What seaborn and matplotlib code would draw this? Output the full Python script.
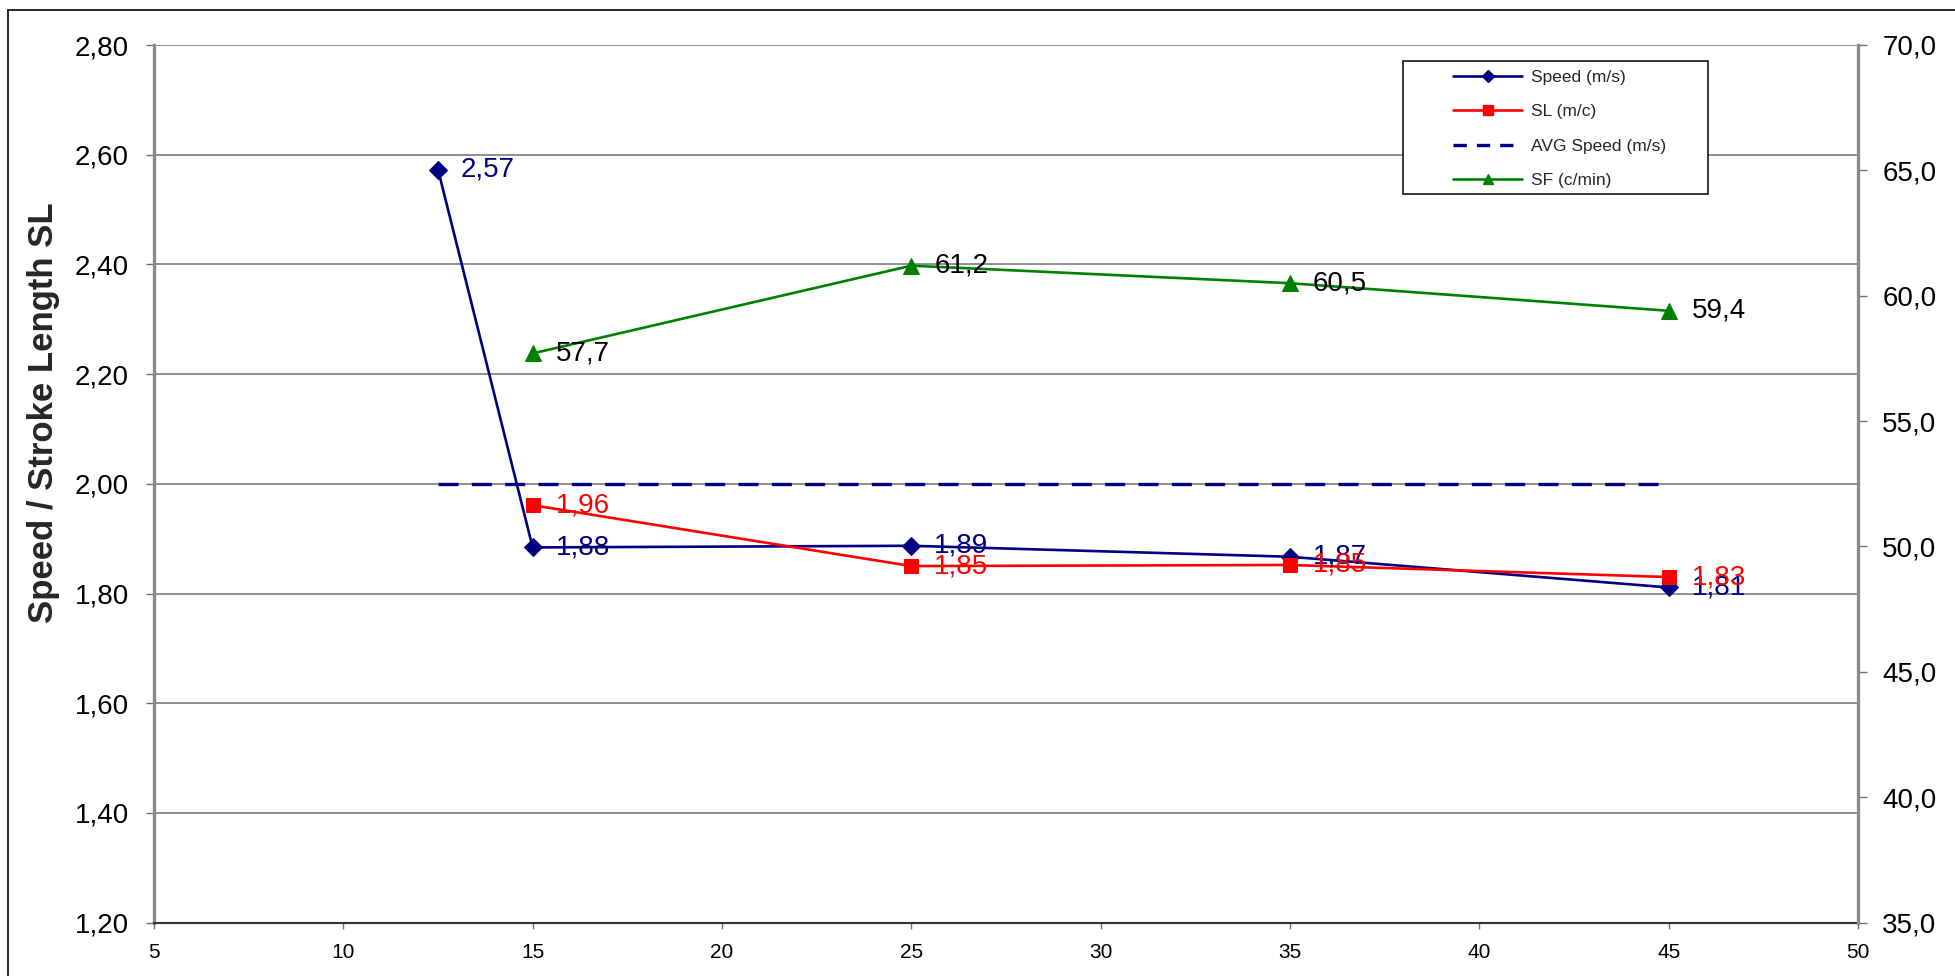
import numpy as np
import pandas as pd
import matplotlib
matplotlib.use("Agg")
import matplotlib.pyplot as plt
import seaborn as sns
from matplotlib.lines import Line2D
from matplotlib.patches import Rectangle
from matplotlib.ticker import FixedLocator, FuncFormatter
from matplotlib import font_manager

# ---------------- data ----------------
speed_x = [12.5, 15, 25, 35, 45]
speed_y = [2.573, 1.884, 1.887, 1.867, 1.811]

sl_x = [15, 25, 35, 45]
sl_y = [1.961, 1.850, 1.852, 1.830]

avg_x = [12.5, 45]
avg_y = [2.00, 2.00]

sf_x = [15, 25, 35, 45]
sf_y = [57.7, 61.2, 60.5, 59.4]

x_ticks = [5, 10, 15, 20, 25, 30, 35, 40, 45, 50]
left_ticks = [1.20, 1.40, 1.60, 1.80, 2.00, 2.20, 2.40, 2.60, 2.80]
right_ticks = [35.0, 40.0, 45.0, 50.0, 55.0, 60.0, 65.0, 70.0]

legend_labels = ["Speed (m/s)", "SL (m/c)", "AVG Speed (m/s)", "SF (c/min)"]
y_label = "Speed / Stroke Length SL"

# ---------------- style ----------------
sns.set_style("white")
names = {f.name for f in font_manager.fontManager.ttflist}
base_font = "Liberation Sans" if "Liberation Sans" in names else "DejaVu Sans"
narrow_font = "Liberation Sans Narrow" if "Liberation Sans Narrow" in names else base_font
plt.rcParams["font.family"] = [base_font, "DejaVu Sans"]

NAVY = "#000080"
RED = "#FF0000"
GREEN = "#008000"
GRID = "#707070"

W, H = 1955, 976
fig = plt.figure(figsize=(W / 100, H / 100), dpi=100)
L, R, T, B = 154, 1858, 45, 922.6
ax = fig.add_axes([L / W, 1 - B / H, (R - L) / W, (B - T) / H])
ax2 = ax.twinx()

# ---------------- series ----------------
LW = 1.9
sns.lineplot(x=speed_x, y=speed_y, ax=ax, color=NAVY, lw=LW, marker="D",
             markersize=9, markeredgecolor=NAVY, sort=False, estimator=None, zorder=4)
sns.lineplot(x=sl_x, y=sl_y, ax=ax, color=RED, lw=LW, marker="s",
             markersize=10.5, markeredgecolor=RED, sort=False, estimator=None, zorder=4)
sns.lineplot(x=avg_x, y=avg_y, ax=ax, color=NAVY, lw=2.4, linestyle=(0, (6, 4)),
             sort=False, estimator=None, zorder=3)
sns.lineplot(x=sf_x, y=sf_y, ax=ax2, color=GREEN, lw=LW, marker="^",
             markersize=11, markeredgecolor=GREEN, sort=False, estimator=None, zorder=4)

def fmt_comma(v, nd):
    return f"{v:.{nd}f}".replace(".", ",")

lab_fs = 20
for x, y in zip(speed_x, speed_y):
    ax.annotate(fmt_comma(y, 2), (x, y), xytext=(16.5, 0), textcoords="offset points",
                ha="left", va="center", color=NAVY, fontsize=lab_fs, zorder=6)
for x, y in zip(sl_x, sl_y):
    ax.annotate(fmt_comma(y, 2), (x, y), xytext=(16.5, 0), textcoords="offset points",
                ha="left", va="center", color=RED, fontsize=lab_fs, zorder=6)
for x, y in zip(sf_x, sf_y):
    ax2.annotate(fmt_comma(y, 1), (x, y), xytext=(16.5, 0), textcoords="offset points",
                 ha="left", va="center", color="black", fontsize=lab_fs, zorder=6)

# ---------------- axes ----------------
ax.set_xlim(5, 50)
ax.set_ylim(1.20, 2.80)
ax2.set_ylim(35, 70)
ax.xaxis.set_major_locator(FixedLocator(x_ticks))
ax.yaxis.set_major_locator(FixedLocator(left_ticks))
ax2.yaxis.set_major_locator(FixedLocator(right_ticks))
ax.yaxis.set_major_formatter(FuncFormatter(lambda v, p: fmt_comma(v, 2)))
ax2.yaxis.set_major_formatter(FuncFormatter(lambda v, p: fmt_comma(v, 1)))
ax.xaxis.set_major_formatter(FuncFormatter(lambda v, p: f"{int(round(v))}"))

ax.grid(False)
ax2.grid(False)
ax.yaxis.grid(True, color=GRID, lw=1.1, zorder=0)
ax.set_axisbelow(True)

for a in (ax, ax2):
    for s in a.spines.values():
        s.set_visible(False)
ax.spines["left"].set_visible(True)
ax.spines["left"].set_color("#8a8a8a")
ax.spines["left"].set_linewidth(2.4)
ax.spines["bottom"].set_visible(True)
ax.spines["bottom"].set_color("#333333")
ax.spines["bottom"].set_linewidth(1.5)
ax2.spines["right"].set_visible(True)
ax2.spines["right"].set_color("#8a8a8a")
ax2.spines["right"].set_linewidth(2.4)

ax.tick_params(axis="y", which="major", direction="out", length=6, width=1.0,
               color=GRID, pad=12, labelsize=20, labelcolor="black", left=True)
ax2.tick_params(axis="y", which="major", direction="out", length=6.5, width=1.0,
                color=GRID, pad=11, labelsize=20, labelcolor="black", right=True)
ax.tick_params(axis="x", which="major", direction="out", length=4.5, width=1.0,
               color=GRID, pad=10, labelsize=15, labelcolor="black", bottom=True)
for lab in ax.get_xticklabels():
    lab.set_family([narrow_font, base_font])

ax.set_ylabel(y_label, fontsize=25, fontweight="bold", family=[narrow_font, base_font])
ax.yaxis.set_label_coords(-(L - 60) / (R - L), (B - 413) / (B - T))
ax2.set_ylabel("")
ax.set_xlabel("")

# ---------------- legend ----------------
handles = [
    Line2D([], [], color=NAVY, lw=LW, marker="D", markersize=6),
    Line2D([], [], color=RED, lw=LW, marker="s", markersize=7),
    Line2D([], [], color=NAVY, lw=2.4, linestyle=(0, (4, 3))),
    Line2D([], [], color=GREEN, lw=LW, marker="^", markersize=7),
]
leg_box = Rectangle((1403 / W, 1 - 194 / H), 305 / W, 133 / H, transform=fig.transFigure,
                    facecolor="white", edgecolor="black", lw=1.1, zorder=4)
fig.add_artist(leg_box)
leg = fig.legend(handles, legend_labels, loc="upper left",
                 bbox_to_anchor=(1453 / W, 1 - 70 / H), bbox_transform=fig.transFigure,
                 frameon=False, fontsize=12.5, borderpad=0, borderaxespad=0,
                 handlelength=4.0, handletextpad=0.5, labelspacing=1.1)
leg.set_zorder(5)

# ---------------- outer border ----------------
fig.add_artist(Line2D([8 / W, 8 / W], [0, 1 - 10 / H], transform=fig.transFigure,
                      color="black", lw=1.2))
fig.add_artist(Line2D([8 / W, 1], [1 - 10 / H, 1 - 10 / H], transform=fig.transFigure,
                      color="black", lw=1.2))

fig.savefig("out.png", dpi=100)
